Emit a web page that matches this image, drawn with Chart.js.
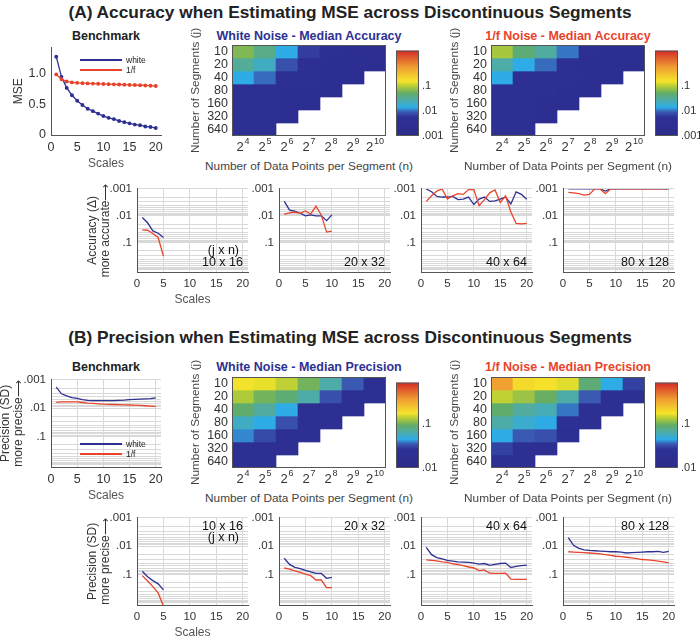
<!DOCTYPE html>
<html>
<head>
<meta charset="utf-8">
<script src="https://cdn.jsdelivr.net/npm/chart.js@4.4.1/dist/chart.umd.min.js"></script>
<style>
  body { margin: 0; width: 700px; height: 638px; position: relative; overflow: hidden; background: #fff;
         font-family: "Liberation Sans", Arial, sans-serif; }
  .box { position: absolute; }
  .txt { position: absolute; white-space: nowrap; transform: translate(-50%, -50%); }
  .lgline { position: absolute; height: 1.5px; }
  .lgtxt { position: absolute; font-size: 8.5px; color: #222; transform: translateY(-50%); }
</style>
</head>
<body>
<script>
// scales on the x axis of every line panel
const scales = [1, 2, 3, 4, 5, 6, 7, 8, 9, 10, 11, 12, 13, 14, 15, 16, 17, 18, 19, 20];
const seriesNames = ['white', '1/f'];
const segLabels = ['10 x 16', '20 x 32', '40 x 64', '80 x 128'];
const dimLabel = '(j x n)';

// (A) benchmark MSE
const benchWhiteMSE = [1.28, 0.95, 0.77, 0.65, 0.56, 0.49, 0.43, 0.39, 0.35, 0.31, 0.28, 0.26, 0.23, 0.21, 0.19, 0.17, 0.16, 0.14, 0.13, 0.115];
const benchPinkMSE = [0.99, 0.91, 0.875, 0.86, 0.852, 0.847, 0.843, 0.84, 0.837, 0.834, 0.831, 0.828, 0.825, 0.822, 0.819, 0.816, 0.813, 0.81, 0.806, 0.80];

// (A) accuracy per segment size
const accWhite_10x16 = [0.0115, 0.018, 0.036, 0.044, 0.063];
const accPink_10x16 = [0.033, 0.034, 0.045, 0.063, 0.31];
const accWhite_20x32 = [0.0029, 0.0061, 0.0066, 0.0080, 0.0100, 0.0092, 0.0100, 0.0100, 0.0150, 0.0092];
const accPink_20x32 = [0.0087, 0.0078, 0.0072, 0.0080, 0.0066, 0.0085, 0.0044, 0.0092, 0.040, 0.037];
const accWhite_40x64 = [0.0010, 0.00128, 0.0019, 0.0020, 0.0020, 0.0019, 0.0025, 0.0024, 0.0020, 0.0038, 0.0024, 0.0020, 0.0029, 0.0028, 0.0024, 0.0020, 0.0036, 0.00128, 0.0016, 0.0024];
const accPink_40x64 = [0.0029, 0.0018, 0.0012, 0.0010, 0.0024, 0.0018, 0.0015, 0.0016, 0.00106, 0.00106, 0.0042, 0.0025, 0.0014, 0.0011, 0.0032, 0.0018, 0.0072, 0.019, 0.0198, 0.019];
const accWhite_80x128 = [0.001, 0.001, 0.001, 0.001, 0.001, 0.001, 0.001, 0.0012, 0.001, 0.001, 0.001, 0.001, 0.001, 0.001, 0.001, 0.001, 0.001, 0.001, 0.001, 0.001];
const accPink_80x128 = [0.00135, 0.0014, 0.0015, 0.0017, 0.0016, 0.001, 0.001, 0.0015, 0.001, 0.001, 0.001, 0.001, 0.001, 0.001, 0.001, 0.001, 0.001, 0.001, 0.001, 0.001];

// (B) benchmark SD
const benchWhiteSD = [0.0018, 0.0031, 0.0037, 0.0042, 0.0045, 0.0050, 0.0053, 0.0054, 0.0054, 0.0054, 0.0054, 0.0054, 0.0053, 0.0052, 0.0050, 0.0049, 0.0048, 0.0047, 0.0046, 0.0043];
const benchPinkSD = [0.0062, 0.0060, 0.0060, 0.0060, 0.0060, 0.0063, 0.0066, 0.0068, 0.0070, 0.0072, 0.0073, 0.0074, 0.0075, 0.0076, 0.0077, 0.0078, 0.0080, 0.0082, 0.0084, 0.0086];

// (B) precision per segment size
const precWhite_10x16 = [0.077, 0.12, 0.165, 0.215, 0.35];
const precPink_10x16 = [0.11, 0.17, 0.27, 0.45, 1.3];
const precWhite_20x32 = [0.0266, 0.044, 0.056, 0.062, 0.071, 0.081, 0.092, 0.092, 0.137, 0.127];
const precPink_20x32 = [0.059, 0.065, 0.075, 0.085, 0.097, 0.11, 0.157, 0.157, 0.29, 0.29];
const precWhite_40x64 = [0.0111, 0.0199, 0.0253, 0.028, 0.032, 0.0338, 0.0356, 0.0366, 0.0375, 0.0396, 0.043, 0.041, 0.0476, 0.044, 0.041, 0.0396, 0.057, 0.0516, 0.049, 0.0464];
const precPink_40x64 = [0.0304, 0.0315, 0.033, 0.0356, 0.0375, 0.0418, 0.045, 0.049, 0.0544, 0.059, 0.073, 0.069, 0.090, 0.092, 0.092, 0.090, 0.145, 0.149, 0.149, 0.149];
const precWhite_80x128 = [0.0050, 0.0093, 0.0120, 0.0134, 0.0141, 0.0145, 0.0149, 0.0153, 0.0157, 0.0157, 0.0161, 0.0174, 0.0170, 0.0165, 0.0161, 0.0157, 0.0157, 0.0153, 0.0165, 0.0153];
const precPink_80x128 = [0.0157, 0.0161, 0.0165, 0.0170, 0.0174, 0.0179, 0.0188, 0.0199, 0.0210, 0.0227, 0.0233, 0.0246, 0.0259, 0.0273, 0.0296, 0.0304, 0.0320, 0.0337, 0.0356, 0.0386];

// heatmaps: rows = number of segments, columns = points per segment (2^k)
const rowLabels = ['10', '20', '40', '80', '160', '320', '640'];
const colBase = '2';
const colExponents = ['4', '5', '6', '7', '8', '9', '10'];
const heatAccWhite = [
  [0.065, 0.037, 0.014, 0.0066, 0.0032, 0.0026, 0.0025],
  [0.032, 0.021, 0.0084, 0.003, 0.0028, 0.0027, 0.0027],
  [0.014, 0.010, 0.0034, 0.003, 0.0028, 0.0027],
  [0.003, 0.003, 0.0029, 0.0028, 0.0027],
  [0.003, 0.003, 0.0029, 0.0028],
  [0.003, 0.003, 0.0029],
  [0.003, 0.003]
];
const heatAccPink = [
  [0.088, 0.044, 0.029, 0.0106, 0.0032, 0.0027, 0.0026],
  [0.027, 0.014, 0.010, 0.003, 0.0028, 0.0027, 0.0027],
  [0.014, 0.0035, 0.003, 0.003, 0.0028, 0.0027],
  [0.003, 0.003, 0.003, 0.0029, 0.0028],
  [0.003, 0.003, 0.0029, 0.0028],
  [0.003, 0.003, 0.0029],
  [0.003, 0.003]
];
const heatPrecWhite = [
  [0.17, 0.165, 0.14, 0.10, 0.065, 0.035, 0.021],
  [0.13, 0.10, 0.085, 0.065, 0.033, 0.021, 0.02],
  [0.09, 0.068, 0.045, 0.021, 0.02, 0.02],
  [0.055, 0.045, 0.033, 0.021, 0.02],
  [0.04, 0.032, 0.021, 0.02],
  [0.021, 0.02, 0.02],
  [0.02, 0.02]
];
const heatPrecPink = [
  [0.35, 0.19, 0.18, 0.16, 0.085, 0.045, 0.03],
  [0.14, 0.12, 0.095, 0.065, 0.035, 0.021, 0.02],
  [0.09, 0.068, 0.06, 0.038, 0.021, 0.02],
  [0.065, 0.052, 0.045, 0.024, 0.02],
  [0.045, 0.035, 0.033, 0.021],
  [0.03, 0.021, 0.02],
  [0.02, 0.02]
];
// colour bar ranges and labelled ticks
const cbRangeA = [0.001, 2.6];
const cbTicksA = [0.001, 0.01, 0.1];
const cbRangeB = [0.01, 0.86];
const cbTicksB = [0.01, 0.1];

const BLUE = '#2e3192';
const RED = '#e8442b';
const FONT = '"Liberation Sans", Arial, sans-serif';

Chart.defaults.font.family = FONT;
Chart.defaults.color = '#333';
Chart.defaults.animation = false;
Chart.defaults.plugins.legend.display = false;
Chart.defaults.plugins.tooltip.enabled = false;

// colormap (bottom -> top of colour bar)
const cmapStops = [
  [0.00, [44, 44, 138]],
  [0.22, [46, 48, 150]],
  [0.28, [58, 88, 176]],
  [0.335, [45, 172, 232]],
  [0.42, [78, 172, 168]],
  [0.50, [98, 172, 102]],
  [0.58, [178, 204, 56]],
  [0.64, [245, 228, 42]],
  [0.80, [240, 160, 50]],
  [1.00, [212, 42, 40]]
];
function cmap(t) {
  t = Math.max(0, Math.min(1, t));
  for (let i = 1; i < cmapStops.length; i++) {
    const [t1, c1] = cmapStops[i];
    const [t0, c0] = cmapStops[i - 1];
    if (t <= t1) {
      const f = (t - t0) / (t1 - t0);
      return 'rgb(' + c0.map((c, k) => Math.round(c + (c1[k] - c) * f)).join(',') + ')';
    }
  }
  return 'rgb(' + cmapStops[cmapStops.length - 1][1].join(',') + ')';
}
function colorOf(v, range) {
  return cmap(Math.log(v / range[0]) / Math.log(range[1] / range[0]));
}
function gradient(chart) {
  const a = chart.chartArea;
  if (!a) return cmap(0);
  const g = chart.ctx.createLinearGradient(0, a.bottom, 0, a.top);
  cmapStops.forEach(([t, c]) => g.addColorStop(t, 'rgb(' + c.join(',') + ')'));
  return g;
}

const boxPlugin = {
  id: 'box',
  afterDraw(chart) {
    const a = chart.chartArea, c = chart.ctx;
    c.save();
    c.strokeStyle = '#555';
    c.lineWidth = 1;
    c.strokeRect(a.left + 0.5, a.top + 0.5, a.right - a.left - 1, a.bottom - a.top - 1);
    c.restore();
  }
};
// "2" with a raised exponent under each heatmap column
const powPlugin = {
  id: 'pow',
  afterDraw(chart) {
    const c = chart.ctx, sx = chart.scales.x, a = chart.chartArea;
    c.save();
    c.fillStyle = '#333';
    c.textBaseline = 'alphabetic';
    c.textAlign = 'left';
    colExponents.forEach((e, i) => {
      const x = sx.getPixelForTick(i);
      c.font = '13px ' + FONT;
      const wb = c.measureText(colBase).width;
      c.font = '9px ' + FONT;
      const we = c.measureText(e).width;
      const x0 = x - (wb + we + 1) / 2;
      c.font = '13px ' + FONT;
      c.fillText(colBase, x0, a.bottom + 15);
      c.font = '9px ' + FONT;
      c.fillText(e, x0 + wb + 1, a.bottom + 8);
    });
    c.restore();
  }
};
const cornerPlugin = {
  id: 'corner',
  afterDraw(chart, args, opts) {
    if (!opts.lines) return;
    const a = chart.chartArea, c = chart.ctx;
    c.save();
    c.font = '12.5px ' + FONT;
    c.fillStyle = '#111';
    c.textAlign = 'right';
    c.textBaseline = 'middle';
    opts.lines.forEach(l => c.fillText(l.text, a.right - l.dx, l.dy >= 0 ? a.top + l.dy : a.bottom + l.dy));
    c.restore();
  }
};

function mount(rect, m) {
  const d = document.createElement('div');
  d.className = 'box';
  d.style.left = (rect[0] - m.l) + 'px';
  d.style.top = (rect[1] - m.t) + 'px';
  d.style.width = (rect[2] - rect[0] + m.l + m.r) + 'px';
  d.style.height = (rect[3] - rect[1] + m.t + m.b) + 'px';
  const c = document.createElement('canvas');
  d.appendChild(c);
  document.body.appendChild(d);
  return c;
}
function text(str, x, y, style) {
  const d = document.createElement('div');
  d.className = 'txt';
  d.textContent = str;
  d.style.left = x + 'px';
  d.style.top = y + 'px';
  d.style.cssText += style;
  document.body.appendChild(d);
}
function legend(x, y) {
  [BLUE, RED].forEach((col, i) => {
    const l = document.createElement('div');
    l.className = 'lgline';
    l.style.cssText = `left:${x}px;top:${y + i * 10}px;width:42px;background:${col}`;
    document.body.appendChild(l);
    const t = document.createElement('div');
    t.className = 'lgtxt';
    t.textContent = seriesNames[i];
    t.style.left = (x + 46) + 'px';
    t.style.top = (y + i * 10 + 1) + 'px';
    document.body.appendChild(t);
  });
}

const decades = [0.001, 0.01, 0.1];
function logTicks(s) {
  const t = [];
  for (let e = -3; e <= 0; e++) {
    for (let k = 1; k <= 9; k++) {
      const v = +(k * Math.pow(10, e)).toPrecision(3);
      if (v >= s.min * 0.999 && v <= s.max) t.push({ value: v });
    }
  }
  s.ticks = t;
}
function decadeLabel(v) {
  return decades.some(d => Math.abs(v - d) < d * 1e-6) ? String(v).replace(/^0/, '') : '';
}

function lineChart(rect, m, cfg) {
  const canvas = mount(rect, m);
  const datasets = cfg.series.map((s, i) => ({
    data: s.map((v, k) => ({ x: scales[k], y: v })),
    borderColor: i === 0 ? BLUE : RED,
    backgroundColor: i === 0 ? BLUE : RED,
    borderWidth: 1.3,
    pointRadius: cfg.points ? 1.3 : 0,
    tension: 0,
    order: i === 0 ? 2 : 1
  }));
  const titleFont = { size: 12, lineHeight: 1.1 };
  const y = cfg.log ? {
    type: 'logarithmic', reverse: true, min: 0.001, max: 1.2,
    afterBuildTicks: logTicks,
    ticks: { autoSkip: false, callback: decadeLabel, padding: 5, font: { size: 11.5 }, color: '#333' },
    grid: { color: '#d9d9d9', drawTicks: false },
  } : {
    type: 'linear', min: 0, max: 1.43,
    ticks: { stepSize: 0.5, includeBounds: false, padding: 5, font: { size: 12.5 }, color: '#333' },
    grid: { display: false, drawTicks: false }
  };
  y.border = { display: true, color: '#555' };
  y.afterFit = s => { s.width = m.l; };
  y.title = cfg.yTitle ? { display: true, text: cfg.yTitle, color: '#333', font: titleFont, padding: { top: cfg.yPad, bottom: 0 } } : { display: false };
  return new Chart(canvas, {
    type: 'line',
    data: { datasets },
    options: {
      responsive: true, maintainAspectRatio: false,
      layout: { padding: { left: 0, top: m.t, right: m.r, bottom: 0 } },
      scales: {
        x: {
          type: 'linear', min: 0, max: 21,
          afterFit: s => { s.height = m.b; },
          ticks: { stepSize: 5, includeBounds: false, padding: 5, font: { size: cfg.log && !cfg.bench ? 11.5 : 12.5 }, color: '#333' },
          grid: { display: cfg.log, color: '#d9d9d9', drawTicks: false },
          border: { display: true, color: '#555' },
          title: cfg.xTitle ? { display: true, text: cfg.xTitle, color: '#555', font: { size: 12 }, padding: { top: 0, bottom: cfg.xPad } } : { display: false }
        },
        y
      },
      plugins: { corner: { lines: cfg.corner } }
    },
    plugins: [cornerPlugin]
  });
}

function heatmap(rect, m, values, range) {
  const canvas = mount(rect, m);
  const datasets = values.map((row, r) => ({
    data: colExponents.map((c, ci) => ci < row.length ? [r, r + 1] : null),
    backgroundColor: colExponents.map((c, ci) => ci < row.length ? colorOf(row[ci], range) : 'rgba(0,0,0,0)'),
    borderWidth: 0, barPercentage: 1, categoryPercentage: 1, grouped: false
  }));
  const chart = new Chart(canvas, {
    type: 'bar',
    data: { labels: colExponents.map(e => colBase + '^' + e), datasets },
    options: {
      responsive: true, maintainAspectRatio: false,
      layout: { padding: { left: 0, top: m.t, right: m.r, bottom: 0 } },
      scales: {
        x: {
          afterFit: s => { s.height = m.b; },
          grid: { display: false, drawTicks: false }, border: { display: false },
          ticks: { callback: () => '' }
        },
        y: {
          type: 'linear', min: 0, max: rowLabels.length, reverse: true,
          afterFit: s => { s.width = m.l; },
          afterBuildTicks: s => { s.ticks = rowLabels.map((l, i) => ({ value: i + 0.5 })); },
          grid: { display: false, drawTicks: false }, border: { display: false },
          ticks: { autoSkip: false, padding: 4, font: { size: 12.5 }, color: '#333', callback: (v, i) => rowLabels[i] },
          title: { display: true, text: 'Number of Segments (j)', color: '#444', font: { size: 11.8 }, padding: { top: 2, bottom: 0 } }
        }
      }
    },
    plugins: [boxPlugin, powPlugin]
  });
  text('Number of Data Points per Segment (n)', (rect[0] + rect[2]) / 2, rect[3] + 30, 'font-size:11.8px;color:#444;');
  return chart;
}

function colorbar(rect, m, range, ticks) {
  const canvas = mount(rect, m);
  return new Chart(canvas, {
    type: 'bar',
    data: { labels: [''], datasets: [{ data: [range], backgroundColor: ctx => gradient(ctx.chart), borderWidth: 0, barPercentage: 1, categoryPercentage: 1 }] },
    options: {
      responsive: true, maintainAspectRatio: false,
      layout: { padding: { left: 0, top: m.t, right: 0, bottom: m.b } },
      scales: {
        x: { display: false },
        y: {
          type: 'logarithmic', position: 'right', min: range[0], max: range[1],
          afterFit: s => { s.width = m.r; },
          afterBuildTicks: s => { s.ticks = ticks.map(v => ({ value: v })); },
          grid: { display: false, drawTicks: false }, border: { display: false },
          ticks: { autoSkip: false, padding: 3, font: { size: 11 }, color: '#333', callback: v => String(v).replace(/^0/, '') }
        }
      }
    },
    plugins: [boxPlugin]
  });
}

// ---------------- headings ----------------
text('(A) Accuracy when Estimating MSE across Discontinuous Segments', 350, 12, 'font-weight:bold;font-size:17.3px;color:#222;');
text('(B) Precision when Estimating MSE across Discontinuous Segments', 350, 337, 'font-weight:bold;font-size:17.3px;color:#222;');
text('Benchmark', 106, 36, 'font-weight:bold;font-size:12.5px;color:#222;');
text('Benchmark', 106, 367, 'font-weight:bold;font-size:12.5px;color:#222;');
text('White Noise - Median Accuracy', 309, 36, `font-weight:bold;font-size:12.5px;color:${BLUE};`);
text('1/f Noise - Median Accuracy', 568, 36, `font-weight:bold;font-size:12.5px;color:${RED};`);
text('White Noise - Median Precision', 309, 367, `font-weight:bold;font-size:12.5px;color:${BLUE};`);
text('1/f Noise - Median Precision', 568, 367, `font-weight:bold;font-size:12.5px;color:${RED};`);

// ---------------- (A) ----------------
lineChart([51, 45, 161, 135], { l: 51, t: 10, r: 10, b: 40 },
  { series: [benchWhiteMSE, benchPinkMSE], log: false, points: true, yTitle: 'MSE', yPad: 12, xTitle: 'Scales', xPad: 4 });
legend(80, 59);

heatmap([232, 45, 386, 136], { l: 45, t: 18, r: 4, b: 20 }, heatAccWhite, cbRangeA);
colorbar([396, 45, 419, 136], { l: 0, t: 4, r: 28, b: 10 }, cbRangeA, cbTicksA);
heatmap([491, 45, 645, 136], { l: 45, t: 18, r: 4, b: 20 }, heatAccPink, cbRangeA);
colorbar([655, 45, 678, 136], { l: 0, t: 4, r: 22, b: 10 }, cbRangeA, cbTicksA);

const accSets = [[accWhite_10x16, accPink_10x16], [accWhite_20x32, accPink_20x32], [accWhite_40x64, accPink_40x64], [accWhite_80x128, accPink_80x128]];
accSets.forEach((s, i) => {
  const L = 137 + i * 142;
  const first = i === 0;
  lineChart([L, 186, L + 111, 272], { l: first ? 60 : 35, t: 9, r: 9, b: first ? 45 : 25 }, {
    series: s, log: true,
    yTitle: first ? ['Accuracy (\u0394)', 'more accurate\u27f6'] : null, yPad: 9,
    xTitle: first ? 'Scales' : null, xPad: 10,
    corner: first ? [{ text: dimLabel, dx: 9, dy: -21 }, { text: segLabels[i], dx: 5, dy: -9 }] : [{ text: segLabels[i], dx: 5, dy: -9 }]
  });
});

// ---------------- (B) ----------------
lineChart([51, 378, 161, 467], { l: 60, t: 10, r: 10, b: 40 },
  { series: [benchWhiteSD, benchPinkSD], log: true, bench: true, yTitle: ['Precision (SD)', 'more precise\u27f6'], yPad: 8, xTitle: 'Scales', xPad: 4 });
legend(80, 443);

heatmap([232, 377, 386, 468], { l: 45, t: 18, r: 4, b: 20 }, heatPrecWhite, cbRangeB);
colorbar([396, 377, 419, 468], { l: 0, t: 4, r: 28, b: 10 }, cbRangeB, cbTicksB);
heatmap([491, 377, 645, 468], { l: 45, t: 18, r: 4, b: 20 }, heatPrecPink, cbRangeB);
colorbar([655, 377, 678, 468], { l: 0, t: 4, r: 22, b: 10 }, cbRangeB, cbTicksB);

const precSets = [[precWhite_10x16, precPink_10x16], [precWhite_20x32, precPink_20x32], [precWhite_40x64, precPink_40x64], [precWhite_80x128, precPink_80x128]];
precSets.forEach((s, i) => {
  const L = 137 + i * 142;
  const first = i === 0;
  lineChart([L, 515, L + 111, 605], { l: first ? 60 : 35, t: 9, r: 9, b: first ? 38 : 25 }, {
    series: s, log: true,
    yTitle: first ? ['Precision (SD)', 'more precise\u27f6'] : null, yPad: 9,
    xTitle: first ? 'Scales' : null, xPad: 3,
    corner: first ? [{ text: segLabels[i], dx: 5, dy: 9 }, { text: dimLabel, dx: 9, dy: 20 }] : [{ text: segLabels[i], dx: 5, dy: 9 }]
  });
});
</script>
</body>
</html>
